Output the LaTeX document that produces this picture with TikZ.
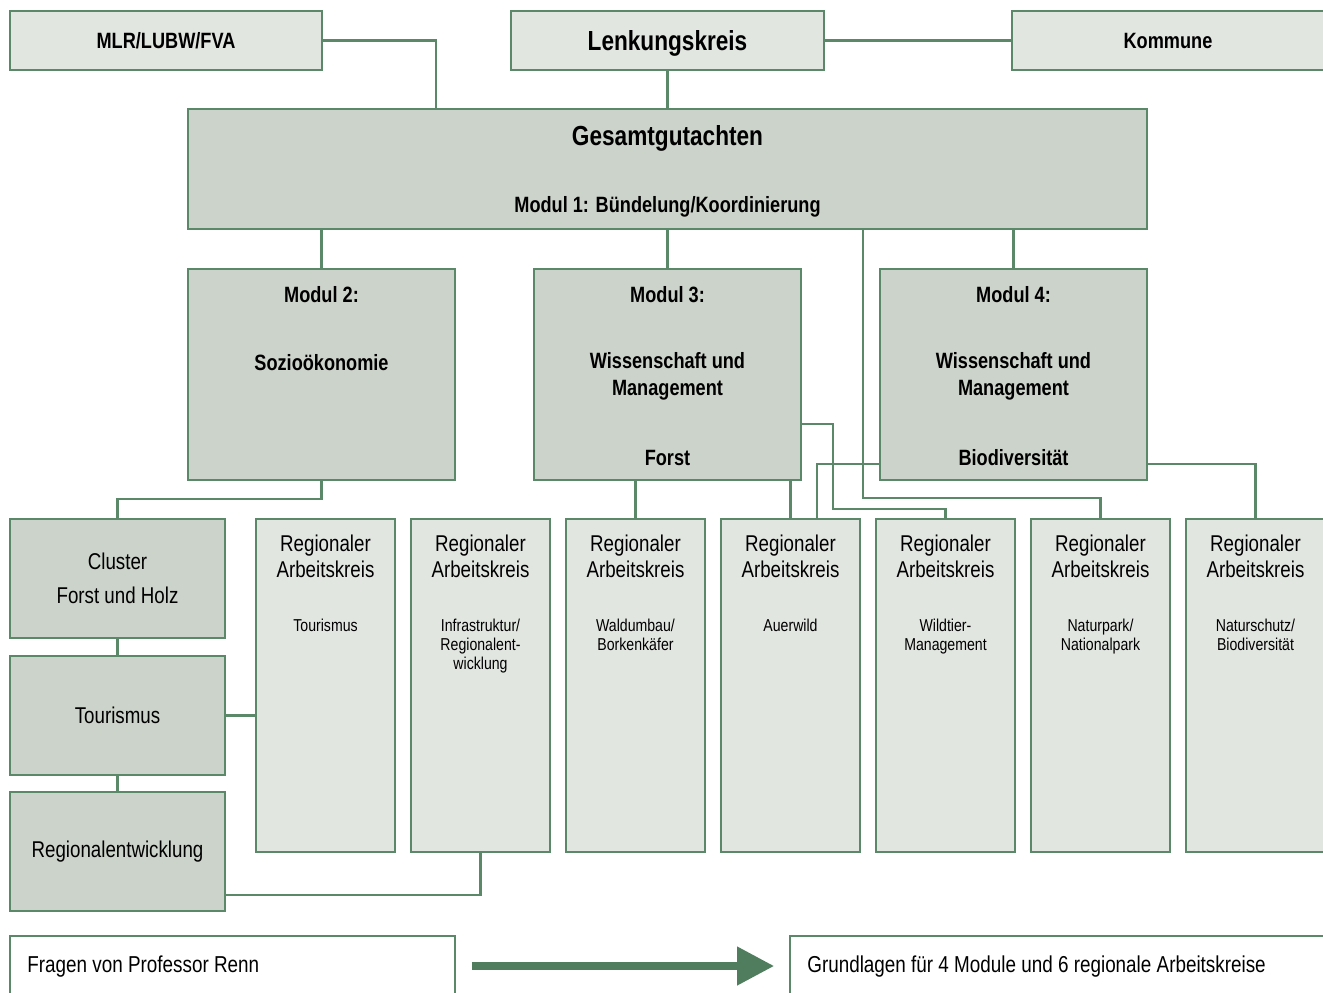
\documentclass[tikz,border=0pt]{standalone}
\usepackage{fontspec}
\setmainfont{Liberation Sans}[FakeStretch=0.82]
\usetikzlibrary{positioning, arrows.meta}

\definecolor{linegreen}{HTML}{5A8868}
\definecolor{lightbox}{HTML}{E2E6E1}
\definecolor{darkbox}{HTML}{CCD3CA}
\definecolor{arrowgreen}{HTML}{4F7D5D}

\begin{document}
\begin{tikzpicture}[
    x=0.02cm, y=-0.02cm,
    % Partner box style (top row)
    topbox/.style={
        rectangle,
        draw=linegreen,
        fill=lightbox,
        line width=1.1pt,
        minimum width=6.24cm,
        minimum height=1.18cm,
        text depth=0pt,
        font=\fontsize{12.6}{15}\selectfont\bfseries
    },
    % Module box style
    modbox/.style={
        rectangle,
        draw=linegreen,
        fill=darkbox,
        line width=1.1pt,
        minimum width=5.34cm,
        minimum height=4.22cm
    },
    % Left column box style
    sidebox/.style={
        rectangle,
        draw=linegreen,
        fill=darkbox,
        line width=1.1pt,
        minimum width=4.3cm,
        minimum height=2.38cm,
        align=center,
        font=\fontsize{13}{19.3}\selectfont
    },
    % Working group box style
    rakbox/.style={
        rectangle,
        draw=linegreen,
        fill=lightbox,
        line width=1.1pt,
        minimum width=2.78cm,
        minimum height=6.66cm
    },
    % Bottom note box style
    notebox/.style={
        rectangle,
        draw=linegreen,
        fill=white,
        line width=1.1pt,
        minimum height=1.2cm
    },
    % Connector style
    conn/.style={
        draw=linegreen,
        line width=1.3pt
    },
    % Big arrow style
    bigarrow/.style={
        -{Triangle[length=0.74cm, width=0.74cm]},
        draw=arrowgreen,
        fill=arrowgreen,
        line width=0.15cm
    },
    % Label styles
    titlelbl/.style={
        yshift=-0.05cm,
        font=\fontsize{15.7}{18}\selectfont\bfseries
    },
    modlbl/.style={
        yshift=-0.04cm,
        align=center,
        font=\fontsize{12.6}{15.3}\selectfont\bfseries
    },
    raklbl/.style={
        align=center,
        font=\fontsize{13}{14.7}\selectfont
    },
    raksub/.style={
        align=center,
        anchor=north,
        inner sep=0pt,
        yshift=-0.04cm,
        font=\fontsize{9.8}{10.8}\selectfont
    },
    notelbl/.style={
        anchor=west,
        inner sep=0pt,
        yshift=-0.04cm,
        font=\fontsize{13.1}{15}\selectfont
    }
]

\useasboundingbox (0,0) rectangle (1323,992);
\clip (0,0) rectangle (1323,992);
\fill[white] (0,0) rectangle (1323,992);

% === Top row ===
\node[topbox] (mlr) at (166,40.5) {MLR/LUBW/FVA};
\node[topbox, minimum width=6.26cm, font=\fontsize{15.7}{18}\selectfont\bfseries]
    (lenk) at (667.5,40.5) {Lenkungskreis};
\node[topbox] (kommune) at (1168,40.5) {Kommune};

% === Gesamtgutachten ===
\node[modbox, minimum width=19.18cm, minimum height=2.4cm] (gesamt) at (667.5,169) {};
\node[titlelbl] (gestitle) at (667.5,136) {Gesamtgutachten};
\node[modlbl] (mod1) at (667.5,205) {Modul 1: Bündelung/Koordinierung};

% === Modules 2 to 4 ===
\node[modbox] (modul2) at (321.5,374.5) {};
\node[modlbl] (m2head) at (321.5,293) {Modul 2:};
\node[modlbl] (m2name) at (321.5,361) {Sozioökonomie};

\node[modbox] (modul3) at (667.5,374.5) {};
\node[modlbl] (m3head) at (667.5,293) {Modul 3:};
\node[modlbl] (m3name) at (667.5,374.5) {Wissenschaft und\\Management};
\node[modlbl] (m3sub) at (667.5,456) {Forst};

\node[modbox] (modul4) at (1013.5,374.5) {};
\node[modlbl] (m4head) at (1013.5,293) {Modul 4:};
\node[modlbl] (m4name) at (1013.5,374.5) {Wissenschaft und\\Management};
\node[modlbl] (m4sub) at (1013.5,456) {Biodiversität};

% === Left column ===
\node[sidebox] (cluster) at (117.5,578.5) {Cluster\\Forst und Holz};
\node[sidebox] (tourism) at (117.5,715.5) {Tourismus};
\node[sidebox] (regent) at (117.5,851.5) {Regionalentwicklung};

% === Regional working groups ===
\node[rakbox] (rak1) at (325.5,685.5) {};
\node[raklbl] (rak1t) at (325.5,556) {Regionaler\\Arbeitskreis};
\node[raksub] (rak1s) at (325.5,617) {Tourismus};

\node[rakbox] (rak2) at (480.5,685.5) {};
\node[raklbl] (rak2t) at (480.5,556) {Regionaler\\Arbeitskreis};
\node[raksub] (rak2s) at (480.5,617) {Infrastruktur/\\Regionalent-\\wicklung};

\node[rakbox] (rak3) at (635.5,685.5) {};
\node[raklbl] (rak3t) at (635.5,556) {Regionaler\\Arbeitskreis};
\node[raksub] (rak3s) at (635.5,617) {Waldumbau/\\Borkenkäfer};

\node[rakbox] (rak4) at (790.5,685.5) {};
\node[raklbl] (rak4t) at (790.5,556) {Regionaler\\Arbeitskreis};
\node[raksub] (rak4s) at (790.5,617) {Auerwild};

\node[rakbox] (rak5) at (945.5,685.5) {};
\node[raklbl] (rak5t) at (945.5,556) {Regionaler\\Arbeitskreis};
\node[raksub] (rak5s) at (945.5,617) {Wildtier-\\Management};

\node[rakbox] (rak6) at (1100.5,685.5) {};
\node[raklbl] (rak6t) at (1100.5,556) {Regionaler\\Arbeitskreis};
\node[raksub] (rak6s) at (1100.5,617) {Naturpark/\\Nationalpark};

\node[rakbox] (rak7) at (1255.5,685.5) {};
\node[raklbl] (rak7t) at (1255.5,556) {Regionaler\\Arbeitskreis};
\node[raksub] (rak7s) at (1255.5,617) {Naturschutz/\\Biodiversität};

% === Bottom notes ===
\node[notebox, minimum width=8.9cm] (fragen) at (232.5,966) {};
\node[notelbl] (fragent) at (27,965) {Fragen von Professor Renn};
\node[notebox, minimum width=11cm] (grund) at (1065,966) {};
\node[notelbl] (grundt) at (807,965) {Grundlagen für 4 Module und 6 regionale Arbeitskreise};

\draw[bigarrow] ([xshift=0.32cm]fragen.east) -- ([xshift=-0.3cm]grund.west);

% === Connectors, top part ===
\draw[conn] (mlr.east) -| ([xshift=4.98cm]gesamt.north west);
\draw[conn] (lenk.south) -- (gesamt.north);
\draw[conn] (lenk.east) -- (kommune.west);
\draw[conn] (modul2.north |- gesamt.south) -- (modul2.north);
\draw[conn] (modul3.north |- gesamt.south) -- (modul3.north);
\draw[conn] (modul4.north |- gesamt.south) -- (modul4.north);

% === Connectors to working groups ===
\draw[conn] ([xshift=13.52cm]gesamt.south west) |- ([yshift=0.4cm]rak6.north) -- (rak6.north);
\draw[conn] ([yshift=-0.99cm]modul3.east) -- ++(31,0) |- ([yshift=0.18cm]rak5.north) -- (rak5.north);
\draw[conn] (rak4.north |- modul3.south) -- (rak4.north);
\draw[conn] ([yshift=-1.79cm]modul4.west) -| ([xshift=0.53cm]rak4.north);
\draw[conn] ([yshift=-1.79cm]modul4.east) -| (rak7.north);
\draw[conn] (rak3.north |- modul3.south) -- (rak3.north);

% === Connectors, left column ===
\draw[conn] (modul2.south) -- ++(0,18) -| (cluster.north);
\draw[conn] (cluster.south) -- (tourism.north);
\draw[conn] (tourism.south) -- (regent.north);
\draw[conn] (tourism.east) -- (tourism.east -| rak1.west);
\draw[conn] ([yshift=-0.87cm]regent.east) -| (rak2.south);

\end{tikzpicture}
\end{document}
